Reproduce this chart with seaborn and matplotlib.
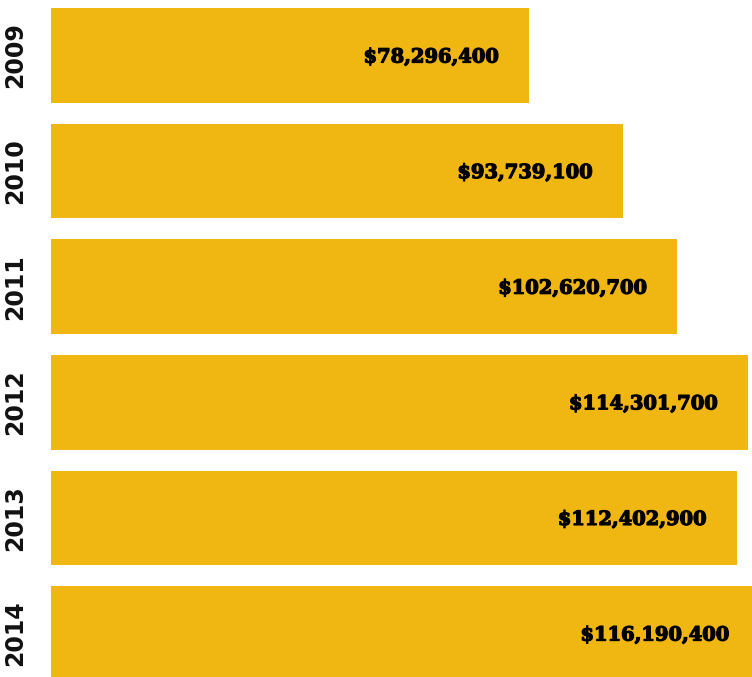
import pandas as pd
import matplotlib
matplotlib.use('Agg')
import matplotlib.pyplot as plt
import matplotlib.transforms as mtrans
import matplotlib.patheffects as pe
import seaborn as sns

# Data
years = ['2009', '2010', '2011', '2012', '2013', '2014']
budget = [78296400, 93739100, 102620700, 114301700, 112402900, 116190400]

df = pd.DataFrame({'year': years, 'budget': budget})

sns.set_style('white')

fig = plt.figure(figsize=(7.52, 6.77), dpi=100)
ax = fig.add_axes([51 / 752, 0, 1 - 51 / 752, 1])

sns.barplot(data=df, x='budget', y='year', orient='h', color='#F0B611',
            saturation=1, width=0.82, linewidth=0, ax=ax)

# Axis ranges so the last bar runs off the edge like the original
ax.set_xlim(0, 114.9e6)
ax.set_ylim(5.376, -0.48)

# Value labels inside the bars
for i, v in enumerate(budget):
    ax.annotate('${:,}'.format(v), xy=(v, i), xytext=(-30, -2),
                textcoords='offset pixels', annotation_clip=False,
                ha='right', va='center', fontsize=14, fontweight='bold',
                family='DejaVu Serif', color='black',
                path_effects=[pe.withStroke(linewidth=0.9, foreground='black')])

# Year labels rotated on the left
trans = mtrans.blended_transform_factory(fig.transFigure, ax.transData)
for i, y in enumerate(years):
    ax.text(15 / 752, i, y, transform=trans, ha='center', va='center',
            rotation=90, fontsize=17, fontweight='bold', color='#111111',
            clip_on=False)

ax.set_yticks([])
ax.set_xticks([])
ax.set_xlabel('')
ax.set_ylabel('')
sns.despine(left=True, bottom=True)

fig.savefig('out.png', dpi=100)
